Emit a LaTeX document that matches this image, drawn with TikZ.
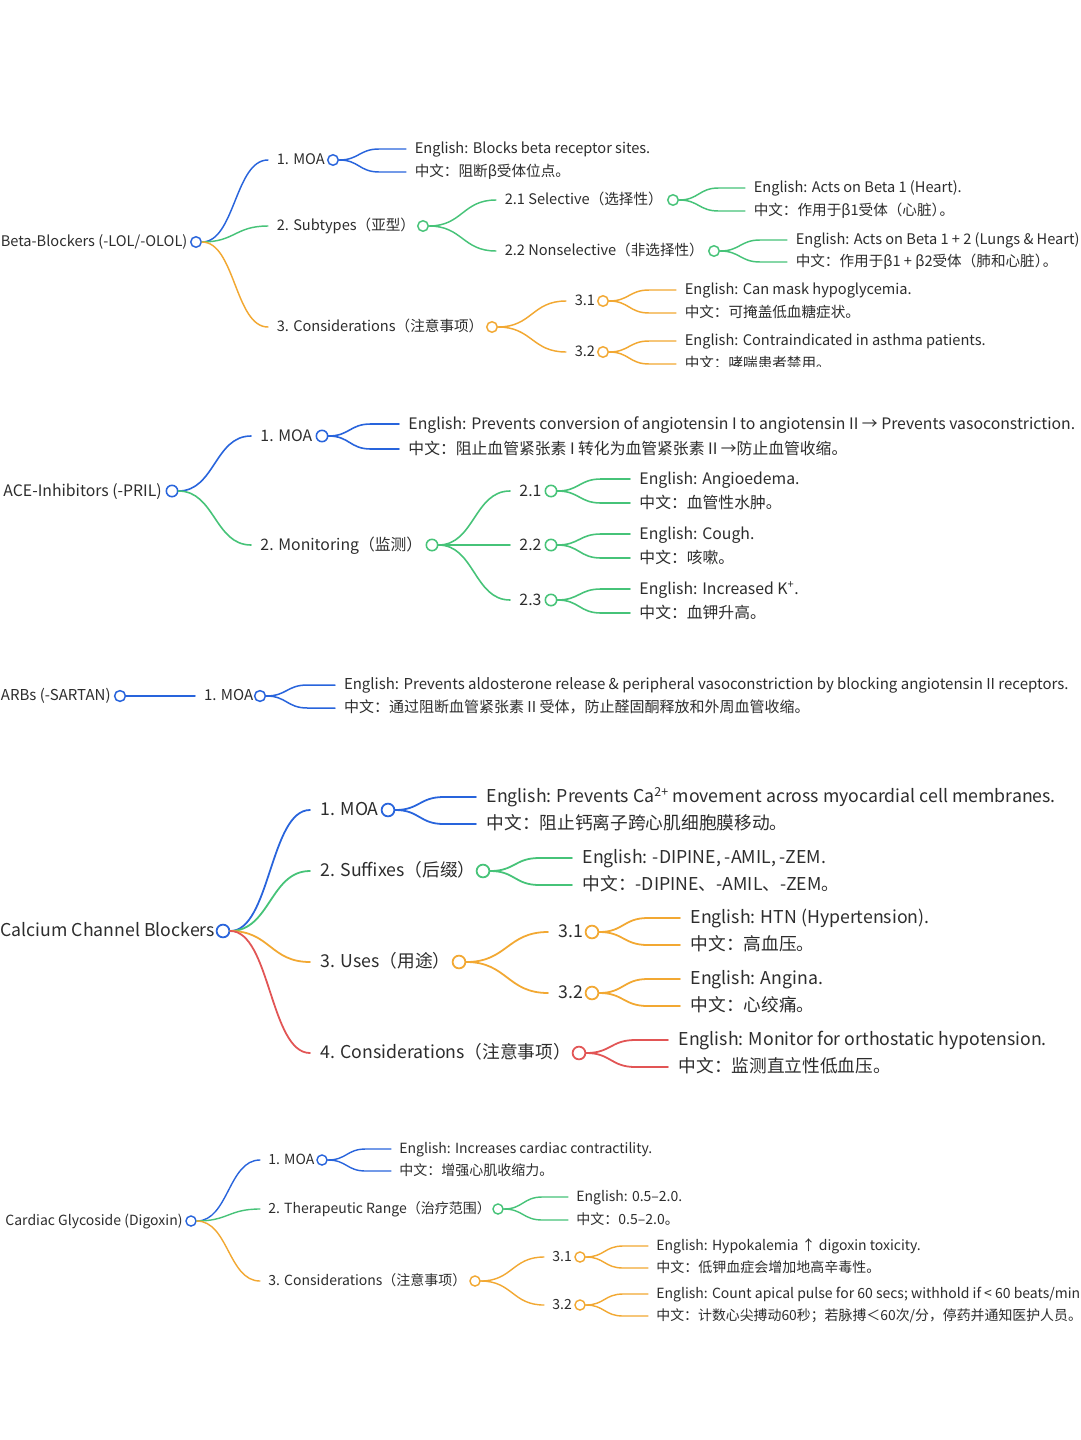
\documentclass[tikz,border=0pt]{standalone}
\usepackage{fontspec}
\setmainfont{Noto Sans CJK SC}
\usepackage{tikz}
\usetikzlibrary{calc}
\definecolor{mapblue}{RGB}{40,100,220}
\definecolor{mapgreen}{RGB}{70,195,120}
\definecolor{maporange}{RGB}{242,168,50}
\definecolor{mapred}{RGB}{226,85,85}
\definecolor{maptext}{RGB}{45,45,45}
\tikzset{
  topic/.style={
    anchor=west, inner ysep=0pt, text=maptext
  },
  leaf/.style={topic},
  dot/.style={
    circle, draw=#1, fill=white, inner sep=0pt
  },
  branch/.style={
    draw=#1, line cap=round,
    to path={let \p1=(\tikztostart), \p2=(\tikztotarget), \n1={(\x2-\x1)/2} in
      .. controls ($(\p1)+(\n1,0)$) and ($(\p2)-(\n1,0)$) .. (\tikztotarget)}
  },
  twig/.style={
    draw=#1, line cap=round,
    to path={let \p1=(\tikztostart), \p2=(\tikztotarget), \n1={0.6*(\x2-\x1)} in
      .. controls ($(\p1)+(\n1/2,0)$) and (\x1+\n1/2,\y2) .. (\x1+\n1,\y2) -- (\tikztotarget)}
  },
  sec/.style={
    font=\fontsize{#1pt}{#1pt}\selectfont, line width=0.1*#1pt,
    topic/.append style={inner xsep=0.55*#1pt, text height=0.83*#1pt, text depth=0.17*#1pt},
    dot/.append style={minimum size=0.72*#1pt}
  }
}
\begin{document}
\begin{tikzpicture}[x=1pt, y=-1pt]
  \useasboundingbox (0,0) rectangle (1080,1440);
  \fill[white] (0,0) rectangle (1080,1440);

  \begin{scope}[sec=14.6]
    \node[topic] (bb) at (-8,242) {Beta-Blockers (-LOL/-OLOL)};
    \node[dot=mapblue] (bb-d) at (196,242) {};
    \node[topic] (bb1) at (268,160) {1. MOA};
    \node[dot=mapblue] (bb1-d) at (333,160) {};
    \node[leaf] (bb1-en) at (406,149) {English: Blocks beta receptor sites.};
    \node[leaf] (bb1-zh) at (406,172) {中文：阻断β受体位点。};
    \node[topic] (bb2) at (268,226) {2. Subtypes（亚型）};
    \node[dot=mapgreen] (bb2-d) at (423,226) {};
    \node[topic] (bb21) at (496,200) {2.1 Selective（选择性）};
    \node[dot=mapgreen] (bb21-d) at (673,200) {};
    \node[leaf] (bb21-en) at (745,188) {English: Acts on Beta 1 (Heart).};
    \node[leaf] (bb21-zh) at (745,211) {中文：作用于β1受体（心脏）\kern-.45em。};
    \node[topic] (bb22) at (496,251) {2.2 Nonselective（非选择性）};
    \node[dot=mapgreen] (bb22-d) at (714,251) {};
    \node[leaf] (bb22-en) at (787,240) {English: Acts on Beta 1 + 2 (Lungs \& Heart)};
    \node[leaf] (bb22-zh) at (787,262) {中文：作用于β1 + β2受体（肺和心脏）\kern-.45em。};
    \node[topic] (bb3) at (268,327) {3. Considerations（注意事项）};
    \node[dot=maporange] (bb3-d) at (492,327) {};
    \node[topic] (bb31) at (566,301) {3.1};
    \node[dot=maporange] (bb31-d) at (603,301) {};
    \node[leaf] (bb31-en) at (676,290) {English: Can mask hypoglycemia.};
    \node[leaf] (bb31-zh) at (676,313) {中文：可掩盖低血糖症状。};
    \node[topic] (bb32) at (566,352) {3.2};
    \node[dot=maporange] (bb32-d) at (603,352) {};
    \node[leaf] (bb32-en) at (676,341) {English: Contraindicated in asthma patients.};
    \begin{scope}
      \clip (0,0) rectangle (1080,366);
      \node[leaf] (bb32-zh) at (676,364) {中文：哮喘患者禁用。};
    \end{scope}
    \draw[branch=mapblue] (bb-d.east) to (bb1.west);
    \draw[branch=mapgreen] (bb-d.east) to (bb2.west);
    \draw[branch=maporange] (bb-d.east) to (bb3.west);
    \draw[twig=mapblue] (bb1-d.east) to (bb1-en.west);
    \draw[twig=mapblue] (bb1-d.east) to (bb1-zh.west);
    \draw[branch=mapgreen] (bb2-d.east) to (bb21.west);
    \draw[branch=mapgreen] (bb2-d.east) to (bb22.west);
    \draw[twig=mapgreen] (bb21-d.east) to (bb21-en.west);
    \draw[twig=mapgreen] (bb21-d.east) to (bb21-zh.west);
    \draw[twig=mapgreen] (bb22-d.east) to (bb22-en.west);
    \draw[twig=mapgreen] (bb22-d.east) to (bb22-zh.west);
    \draw[branch=maporange] (bb3-d.east) to (bb31.west);
    \draw[branch=maporange] (bb3-d.east) to (bb32.west);
    \draw[twig=maporange] (bb31-d.east) to (bb31-en.west);
    \draw[twig=maporange] (bb31-d.east) to (bb31-zh.west);
    \draw[twig=maporange] (bb32-d.east) to (bb32-en.west);
    \draw[twig=maporange] (bb32-d.east) to (bb32-zh.west);
  \end{scope}

  \begin{scope}[sec=15.8]
    \node[topic] (ace) at (-6,491) {ACE-Inhibitors (-PRIL)};
    \node[dot=mapblue] (ace-d) at (172,491) {};
    \node[topic] (ace1) at (251,436) {1. MOA};
    \node[dot=mapblue] (ace1-d) at (322,436) {};
    \node[leaf] (ace1-en) at (399,424) {English: Prevents conversion of angiotensin I to angiotensin II → Prevents vasoconstriction.};
    \node[leaf] (ace1-zh) at (399,449) {中文：阻止血管紧张素 I 转化为血管紧张素 II →防止血管收缩。};
    \node[topic] (ace2) at (251,545) {2. Monitoring（监测）};
    \node[dot=mapgreen] (ace2-d) at (432,545) {};
    \node[topic] (ace21) at (510,491) {2.1};
    \node[dot=mapgreen] (ace21-d) at (551,491) {};
    \node[leaf] (ace21-en) at (630,479) {English: Angioedema.};
    \node[leaf] (ace21-zh) at (630,503) {中文：血管性水肿。};
    \node[topic] (ace22) at (510,545) {2.2};
    \node[dot=mapgreen] (ace22-d) at (551,545) {};
    \node[leaf] (ace22-en) at (630,534) {English: Cough.};
    \node[leaf] (ace22-zh) at (630,558) {中文：咳嗽。};
    \node[topic] (ace23) at (510,600) {2.3};
    \node[dot=mapgreen] (ace23-d) at (551,600) {};
    \node[leaf] (ace23-en) at (630,589) {English: Increased K\textsuperscript{+}.};
    \node[leaf] (ace23-zh) at (630,613) {中文：血钾升高。};
    \draw[branch=mapblue] (ace-d.east) to (ace1.west);
    \draw[branch=mapgreen] (ace-d.east) to (ace2.west);
    \draw[twig=mapblue] (ace1-d.east) to (ace1-en.west);
    \draw[twig=mapblue] (ace1-d.east) to (ace1-zh.west);
    \draw[branch=mapgreen] (ace2-d.east) to (ace21.west);
    \draw[branch=mapgreen] (ace2-d.east) to (ace22.west);
    \draw[branch=mapgreen] (ace2-d.east) to (ace23.west);
    \draw[twig=mapgreen] (ace21-d.east) to (ace21-en.west);
    \draw[twig=mapgreen] (ace21-d.east) to (ace21-zh.west);
    \draw[twig=mapgreen] (ace22-d.east) to (ace22-en.west);
    \draw[twig=mapgreen] (ace22-d.east) to (ace22-zh.west);
    \draw[twig=mapgreen] (ace23-d.east) to (ace23-en.west);
    \draw[twig=mapgreen] (ace23-d.east) to (ace23-zh.west);
  \end{scope}

  \begin{scope}[sec=15]
    \node[topic] (arb) at (-8,696) {ARBs (-SARTAN)};
    \node[dot=mapblue] (arb-d) at (120,696) {};
    \node[topic] (arb1) at (195,696) {1. MOA};
    \node[dot=mapblue] (arb1-d) at (260,696) {};
    \node[leaf] (arb1-en) at (335,685) {English: Prevents aldosterone release \& peripheral vasoconstriction by blocking angiotensin II receptors.};
    \node[leaf] (arb1-zh) at (335,708) {中文：通过阻断血管紧张素 II 受体，防止醛固酮释放和外周血管收缩。};
    \draw[branch=mapblue] (arb-d.east) to (arb1.west);
    \draw[twig=mapblue] (arb1-d.east) to (arb1-en.west);
    \draw[twig=mapblue] (arb1-d.east) to (arb1-zh.west);
  \end{scope}

  \begin{scope}[sec=17.7]
    \node[topic] (ccb) at (-10,931) {Calcium Channel Blockers};
    \node[dot=mapblue] (ccb-d) at (223,931) {};
    \node[topic] (ccb1) at (310,810) {1. MOA};
    \node[dot=mapblue] (ccb1-d) at (388,810) {};
    \node[leaf] (ccb1-en) at (476,797) {English: Prevents Ca\textsuperscript{2+} movement across myocardial cell membranes.};
    \node[leaf] (ccb1-zh) at (476,824) {中文：阻止钙离子跨心肌细胞膜移动。};
    \node[topic] (ccb2) at (310,871) {2. Suffixes（后缀）};
    \node[dot=mapgreen] (ccb2-d) at (483,871) {};
    \node[leaf] (ccb2-en) at (572,858) {English: -DIPINE, -AMIL, -ZEM.};
    \node[leaf] (ccb2-zh) at (572,885) {中文：-DIPINE、-AMIL、-ZEM。};
    \node[topic] (ccb3) at (310,962) {3. Uses（用途）};
    \node[dot=maporange] (ccb3-d) at (459,962) {};
    \node[topic] (ccb31) at (548,932) {3.1};
    \node[dot=maporange] (ccb31-d) at (592,932) {};
    \node[leaf] (ccb31-en) at (680,918) {English: HTN (Hypertension).};
    \node[leaf] (ccb31-zh) at (680,945) {中文：高血压。};
    \node[topic] (ccb32) at (548,993) {3.2};
    \node[dot=maporange] (ccb32-d) at (592,993) {};
    \node[leaf] (ccb32-en) at (680,979) {English: Angina.};
    \node[leaf] (ccb32-zh) at (680,1006) {中文：心绞痛。};
    \node[topic] (ccb4) at (310,1053) {4. Considerations（注意事项）};
    \node[dot=mapred] (ccb4-d) at (579,1053) {};
    \node[leaf] (ccb4-en) at (668,1040) {English: Monitor for orthostatic hypotension.};
    \node[leaf] (ccb4-zh) at (668,1067) {中文：监测直立性低血压。};
    \draw[branch=mapblue] (ccb-d.east) to (ccb1.west);
    \draw[branch=mapgreen] (ccb-d.east) to (ccb2.west);
    \draw[branch=maporange] (ccb-d.east) to (ccb3.west);
    \draw[branch=mapred] (ccb-d.east) to (ccb4.west);
    \draw[twig=mapblue] (ccb1-d.east) to (ccb1-en.west);
    \draw[twig=mapblue] (ccb1-d.east) to (ccb1-zh.west);
    \draw[twig=mapgreen] (ccb2-d.east) to (ccb2-en.west);
    \draw[twig=mapgreen] (ccb2-d.east) to (ccb2-zh.west);
    \draw[branch=maporange] (ccb3-d.east) to (ccb31.west);
    \draw[branch=maporange] (ccb3-d.east) to (ccb32.west);
    \draw[twig=maporange] (ccb31-d.east) to (ccb31-en.west);
    \draw[twig=maporange] (ccb31-d.east) to (ccb31-zh.west);
    \draw[twig=maporange] (ccb32-d.east) to (ccb32-en.west);
    \draw[twig=maporange] (ccb32-d.east) to (ccb32-zh.west);
    \draw[twig=mapred] (ccb4-d.east) to (ccb4-en.west);
    \draw[twig=mapred] (ccb4-d.east) to (ccb4-zh.west);
  \end{scope}

  \begin{scope}[sec=14]
    \node[topic] (cg) at (-3,1221) {Cardiac Glycoside (Digoxin)};
    \node[dot=mapblue] (cg-d) at (191,1221) {};
    \node[topic] (cg1) at (260,1160) {1. MOA};
    \node[dot=mapblue] (cg1-d) at (322,1160) {};
    \node[leaf] (cg1-en) at (391,1149) {English: Increases cardiac contractility.};
    \node[leaf] (cg1-zh) at (391,1171) {中文：增强心肌收缩力。};
    \node[topic] (cg2) at (260,1209) {2. Therapeutic Range（治疗范围）};
    \node[dot=mapgreen] (cg2-d) at (498,1209) {};
    \node[leaf] (cg2-en) at (568,1197) {English: 0.5–2.0.};
    \node[leaf] (cg2-zh) at (568,1220) {中文：0.5–2.0。};
    \node[topic] (cg3) at (260,1281) {3. Considerations（注意事项）};
    \node[dot=maporange] (cg3-d) at (475,1281) {};
    \node[topic] (cg31) at (544,1257) {3.1};
    \node[dot=maporange] (cg31-d) at (580,1257) {};
    \node[leaf] (cg31-en) at (648,1246) {English: Hypokalemia ↑ digoxin toxicity.};
    \node[leaf] (cg31-zh) at (648,1268) {中文：低钾血症会增加地高辛毒性。};
    \node[topic] (cg32) at (544,1305) {3.2};
    \node[dot=maporange] (cg32-d) at (580,1305) {};
    \node[leaf] (cg32-en) at (648,1294) {English: Count apical pulse for 60 secs; withhold if < 60 beats/min};
    \node[leaf, font=\fontsize{13.9pt}{13.9pt}\selectfont] (cg32-zh) at (648,1316) {中文：计数心尖搏动60秒；若脉搏＜60次/分，停药并通知医护人员。};
    \draw[branch=mapblue] (cg-d.east) to (cg1.west);
    \draw[branch=mapgreen] (cg-d.east) to (cg2.west);
    \draw[branch=maporange] (cg-d.east) to (cg3.west);
    \draw[twig=mapblue] (cg1-d.east) to (cg1-en.west);
    \draw[twig=mapblue] (cg1-d.east) to (cg1-zh.west);
    \draw[twig=mapgreen] (cg2-d.east) to (cg2-en.west);
    \draw[twig=mapgreen] (cg2-d.east) to (cg2-zh.west);
    \draw[branch=maporange] (cg3-d.east) to (cg31.west);
    \draw[branch=maporange] (cg3-d.east) to (cg32.west);
    \draw[twig=maporange] (cg31-d.east) to (cg31-en.west);
    \draw[twig=maporange] (cg31-d.east) to (cg31-zh.west);
    \draw[twig=maporange] (cg32-d.east) to (cg32-en.west);
    \draw[twig=maporange] (cg32-d.east) to (cg32-zh.west);
  \end{scope}
\end{tikzpicture}
\end{document}
